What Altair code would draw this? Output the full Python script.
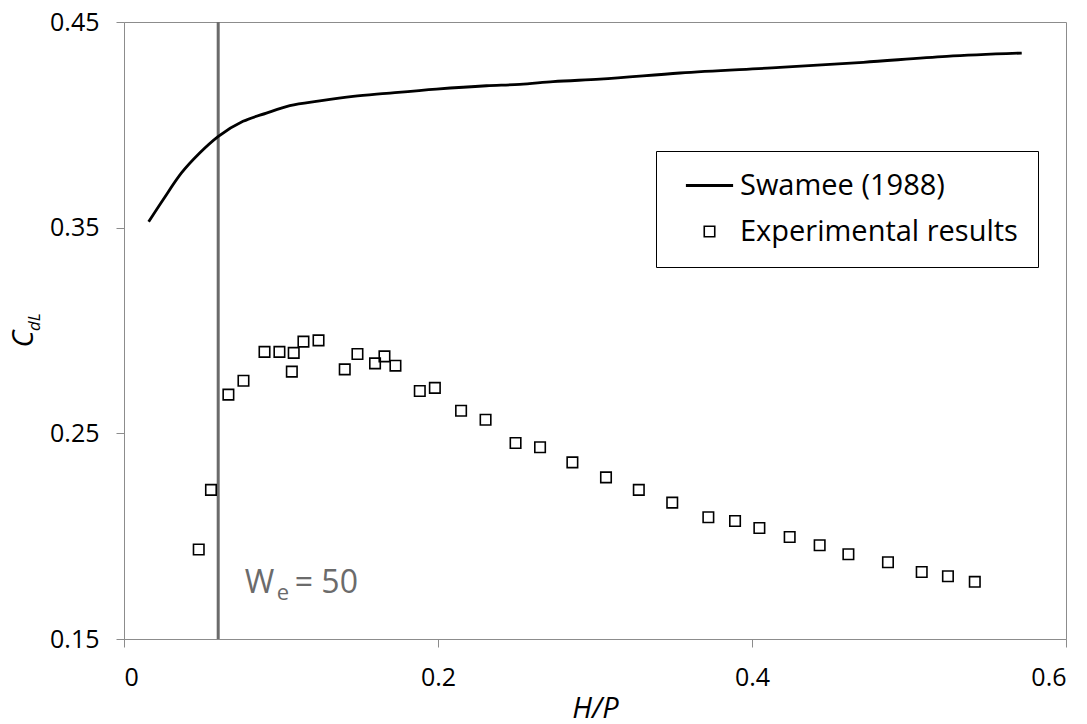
import altair as alt
import pandas as pd

# Swamee (1988) curve
swamee_x = [0.0157, 0.0249, 0.0366, 0.0482, 0.0601, 0.0758, 0.0907, 0.1056, 0.1247, 0.1459,
            0.1672, 0.1990, 0.2309, 0.2521, 0.2733, 0.3031, 0.3541, 0.4178, 0.4709, 0.5240, 0.5718]
swamee_y = [0.3529, 0.3636, 0.3766, 0.3863, 0.3944, 0.4017, 0.4057, 0.4093, 0.4116, 0.4138,
            0.4153, 0.4174, 0.4190, 0.4197, 0.4210, 0.4222, 0.4252, 0.4279, 0.4304, 0.4333, 0.4349]

# Experimental results
exp_x = [0.0476, 0.0554, 0.0665, 0.0761, 0.0895, 0.0990, 0.1081, 0.1069, 0.1143, 0.1239,
         0.1406, 0.1487, 0.1599, 0.1659, 0.1729, 0.1884, 0.1980, 0.2147, 0.2303, 0.2494,
         0.2650, 0.2856, 0.3070, 0.3279, 0.3492, 0.3722, 0.3892, 0.4047, 0.4240, 0.4431,
         0.4614, 0.4866, 0.5081, 0.5248, 0.5419]
exp_y = [0.1935, 0.2225, 0.2688, 0.2756, 0.2896, 0.2896, 0.2891, 0.2800, 0.2946, 0.2952,
         0.2811, 0.2886, 0.2840, 0.2874, 0.2829, 0.2706, 0.2721, 0.2610, 0.2566, 0.2453,
         0.2432, 0.2359, 0.2286, 0.2225, 0.2163, 0.2092, 0.2074, 0.2040, 0.1996, 0.1956,
         0.1912, 0.1873, 0.1826, 0.1805, 0.1778]

series_names = ["Swamee (1988)", "Experimental results"]
we_x = [0.06]
x_ticks = [0, 0.2, 0.4, 0.6]
y_ticks = [0.15, 0.25, 0.35, 0.45]

FONT = "Open Sans"

curve = pd.DataFrame({"x": swamee_x, "y": swamee_y, "series": series_names[0]})
exp = pd.DataFrame({"x": exp_x, "y": exp_y, "series": series_names[1]})
vline = pd.DataFrame({"x": we_x, "y": [0.15], "y2": [0.45]})
annot = pd.DataFrame({"x": [0.0769], "y": [0.1724]})

xscale = alt.Scale(domain=[0, 0.6], nice=False, zero=False)
yscale = alt.Scale(domain=[0.15, 0.45], nice=False, zero=False)

xaxis = alt.Axis(values=x_ticks, format="~g", title="H/P", grid=False,
                 tickSize=8, labelPadding=18, titlePadding=4,
                 titleFontStyle="italic", titleFontSize=29, titleFontWeight="normal")
yaxis = alt.Axis(values=y_ticks, format=".2f", title=None, grid=False,
                 tickSize=8, labelPadding=17)

rule = alt.Chart(vline).mark_rule(color="#6b6b6b", strokeWidth=3).encode(
    x=alt.X("x:Q", scale=xscale, axis=xaxis),
    y=alt.Y("y:Q", scale=yscale, axis=yaxis),
    y2="y2:Q",
)

line = alt.Chart(curve).mark_line(color="black", strokeWidth=2.8, interpolate="monotone").encode(
    x=alt.X("x:Q", scale=xscale),
    y=alt.Y("y:Q", scale=yscale),
)

dom = series_names
points = alt.Chart(exp).mark_point(filled=False, color="black", opacity=1, size=110).encode(
    x=alt.X("x:Q", scale=xscale),
    y=alt.Y("y:Q", scale=yscale),
    shape=alt.Shape("series:N", scale=alt.Scale(domain=dom, range=["M-4.5,0H4.5", "square"]),
                    legend=alt.Legend(title=None)),
    strokeWidth=alt.StrokeWidth("series:N", scale=alt.Scale(domain=dom, range=[3, 1.6]),
                                legend=alt.Legend(title=None)),
)

t_w = alt.Chart(annot).mark_text(text="W", font=FONT, fontSize=32, color="#6b6b6b",
                                 align="left", baseline="alphabetic").encode(
    x=alt.X("x:Q", scale=xscale), y=alt.Y("y:Q", scale=yscale))
t_e = alt.Chart(annot).mark_text(text="e", font=FONT, fontSize=22, color="#6b6b6b",
                                 align="left", baseline="alphabetic", dx=32, dy=7).encode(
    x=alt.X("x:Q", scale=xscale), y=alt.Y("y:Q", scale=yscale))
t_50 = alt.Chart(annot).mark_text(text="= 50", font=FONT, fontSize=32, color="#6b6b6b",
                                  align="left", baseline="alphabetic", dx=50).encode(
    x=alt.X("x:Q", scale=xscale), y=alt.Y("y:Q", scale=yscale))

ytitle_c = alt.Chart(annot).mark_text(text="C", font=FONT, fontSize=29, fontStyle="italic",
                                      color="black", angle=270, align="center",
                                      baseline="alphabetic").encode(
    x=alt.value(-91), y=alt.value(317))
ytitle_sub = alt.Chart(annot).mark_text(text="dL", font=FONT, fontSize=17, fontStyle="italic",
                                        color="black", angle=270, align="center",
                                        baseline="alphabetic").encode(
    x=alt.value(-84), y=alt.value(300))

chart = alt.layer(rule, line, points, t_w, t_e, t_50, ytitle_c, ytitle_sub).properties(
    width=942, height=617,
    autosize=alt.AutoSizeParams(type="none"),
    padding={"left": 124, "top": 22, "right": 21, "bottom": 85},
).configure_view(
    stroke="#8c8c8c", strokeWidth=1
).configure_axis(
    domainColor="#8c8c8c", tickColor="#8c8c8c", labelFont=FONT, labelFontSize=25,
    labelColor="black", titleFont=FONT, titleColor="black", domainWidth=1
).configure_legend(
    orient="none", legendX=532, legendY=129, strokeColor="black", fillColor="white",
    padding=20, labelFont=FONT, labelFontSize=29, labelColor="black", labelLimit=500,
    symbolSize=110, symbolOffset=19, labelOffset=16, rowPadding=16,
    symbolStrokeColor="black", symbolFillColor="transparent", cornerRadius=0
)

chart.save("out.html", embed_options={"renderer": "svg", "actions": False})
